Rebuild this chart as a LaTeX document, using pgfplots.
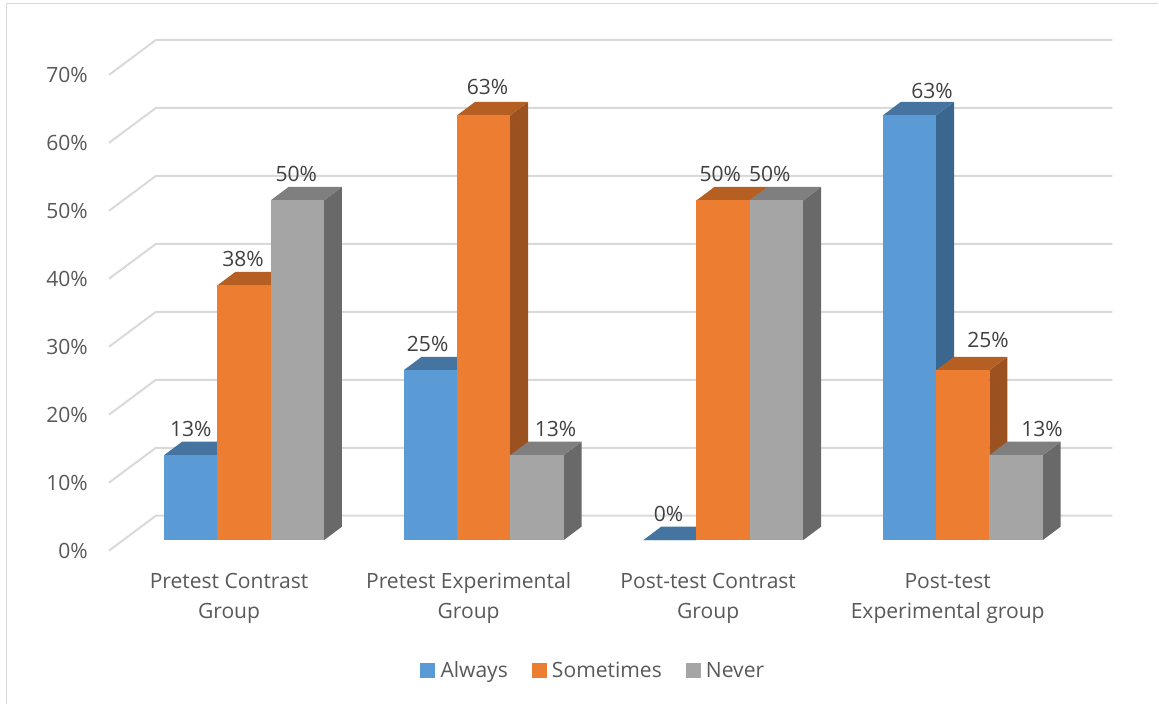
\documentclass[border=0pt]{standalone}
\usepackage{fontspec}
\setmainfont{Open Sans}
\usepackage{pgfplots}
\pgfplotsset{compat=1.18}

\definecolor{AlwaysF}{HTML}{5B9BD5}
\definecolor{AlwaysS}{HTML}{3B668E}
\definecolor{AlwaysT}{HTML}{44749F}
\definecolor{SometimesF}{HTML}{ED7D31}
\definecolor{SometimesS}{HTML}{9B5220}
\definecolor{SometimesT}{HTML}{B55F22}
\definecolor{NeverF}{HTML}{A5A5A5}
\definecolor{NeverS}{HTML}{696969}
\definecolor{NeverT}{HTML}{7F7F7F}
\definecolor{gridgrey}{HTML}{D9D9D9}
\definecolor{axistext}{HTML}{595959}
\definecolor{valuetext}{HTML}{404040}

\newcommand{\chartfont}{\fontsize{15.8}{22.5}\selectfont}

% #1 group, #2 slot (-1,0,1), #3 value, #4 series colour prefix, #5 label shift
\newcommand{\threedbar}[5]{%
  \pgfmathsetmacro{\xc}{#1+#2*0.2225}%
  \pgfmathsetmacro{\xl}{\xc-0.11125}%
  \pgfmathsetmacro{\xr}{\xc+0.11125}%
  \pgfmathsetmacro{\xlb}{\xl+0.0751}%
  \pgfmathsetmacro{\xrb}{\xr+0.0751}%
  \pgfmathsetmacro{\yb}{#3+1.985}%
  \addplot[forget plot, draw=none, fill=#4S] coordinates {(\xr,0) (\xrb,1.985) (\xrb,\yb) (\xr,#3)} --cycle;
  \addplot[forget plot, draw=none, fill=#4T] coordinates {(\xl,#3) (\xr,#3) (\xrb,\yb) (\xlb,\yb)} --cycle;
  \addplot[forget plot, ybar, bar width=40pt, bar shift=0pt, draw=none, fill=#4F,
    nodes near coords={\pgfmathprintnumber[fixed,precision=0,assume math mode=true]{\pgfplotspointmeta}\%},
    every node near coord/.append style={anchor=center, text=valuetext, font=\chartfont, inner sep=0pt, yshift=20pt, #5}]
    coordinates {(\xc,#3)};
}

% one wall line of the chart, for gridline value #1
\newcommand{\wallline}[1]{%
  \pgfmathsetmacro{\yf}{#1-1.54}%
  \pgfmathsetmacro{\yw}{#1+3.6}%
  \addplot[forget plot, gridgrey, line width=1.5pt] coordinates {(-0.564,\yf) (-0.368,\yw) (3.625,\yw)};
}

\begin{document}
\begin{tikzpicture}
\begin{axis}[
  scale only axis,
  width=869.25pt, height=528pt,
  xmin=-1.01877, xmax=3.81644,
  ymin=-24.04, ymax=79.485,
  clip=false,
  axis line style={draw=none},
  tick style={draw=none},
  major tick length=0pt,
  xtick={0,1,2,3},
  xticklabels={{Pretest Contrast\\Group},{Pretest Experimental\\Group},{Post-test Contrast\\Group},{Post-test\\Experimental group}},
  x tick label style={anchor=center, align=center, text=axistext, font=\chartfont, xshift=-11.25pt, yshift=79pt},
  ytick={0,10,...,70},
  yticklabels={0\%,10\%,20\%,30\%,40\%,50\%,60\%,70\%},
  y tick label style={anchor=east, text=axistext, font=\chartfont, inner sep=0pt, xshift=66pt, yshift=-7.9pt},
  legend style={draw=none, fill=none, at={(0.5125,0.0465)}, anchor=center, font=\chartfont, text=axistext,
    legend columns=3, /tikz/every even column/.append style={column sep=16pt}},
]
% chart frame
\draw[gridgrey, line width=1.1pt] (axis cs:-0.992,-24.04) -- (axis cs:-0.992,79.0) -- (axis cs:3.81644,79.0);

\wallline{0}
\wallline{10}
\wallline{20}
\wallline{30}
\wallline{40}
\wallline{50}
\wallline{60}
\wallline{70}

% Always
\threedbar{0}{-1}{12.5}{Always}{xshift=0pt}
\threedbar{1}{-1}{25}{Always}{xshift=-2pt}
\threedbar{2}{-1}{0}{Always}{xshift=-1pt}
\threedbar{3}{-1}{62.5}{Always}{xshift=17pt, yshift=-1.5pt}
% Sometimes
\threedbar{0}{0}{37.5}{Sometimes}{xshift=-0.8pt}
\threedbar{1}{0}{62.5}{Sometimes}{xshift=3pt, yshift=1pt}
\threedbar{2}{0}{50}{Sometimes}{xshift=-2.2pt}
\threedbar{3}{0}{25}{Sometimes}{xshift=19pt, yshift=2.5pt}
% Never
\threedbar{0}{1}{50}{Never}{xshift=-0.8pt}
\threedbar{1}{1}{12.5}{Never}{xshift=14pt}
\threedbar{2}{1}{50}{Never}{xshift=-5pt}
\threedbar{3}{1}{12.5}{Never}{xshift=19.5pt}

\addlegendimage{legend image code/.code={\fill[AlwaysF] (0pt,-5pt) rectangle (10.5pt,5.5pt); \path (0pt,0pt) (12.7pt,0pt);}}
\addlegendentry{Always}
\addlegendimage{legend image code/.code={\fill[SometimesF] (0pt,-5pt) rectangle (10.5pt,5.5pt); \path (0pt,0pt) (12.7pt,0pt);}}
\addlegendentry{Sometimes}
\addlegendimage{legend image code/.code={\fill[NeverF] (0pt,-5pt) rectangle (10.5pt,5.5pt); \path (0pt,0pt) (12.7pt,0pt);}}
\addlegendentry{Never}
\end{axis}
\end{tikzpicture}
\end{document}
